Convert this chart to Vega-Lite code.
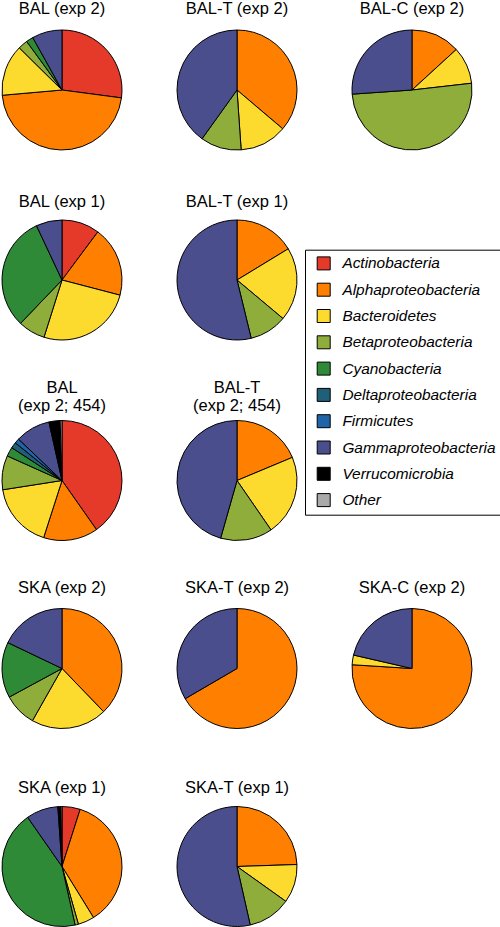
{
  "$schema": "https://vega.github.io/schema/vega-lite/v6.json",
  "background": "white",
  "padding": {"left": 0, "top": 1, "right": 0, "bottom": 0},
  "bounds": "flush",
  "align": "each",
  "columns": 3,
  "spacing": {"row": 50, "column": 55},
  "data": {"values": [
    {"chart": "BAL (exp 2)", "taxon": "Actinobacteria", "pct": 27.1, "rank": 1},
    {"chart": "BAL (exp 2)", "taxon": "Alphaproteobacteria", "pct": 46.5, "rank": 2},
    {"chart": "BAL (exp 2)", "taxon": "Bacteroidetes", "pct": 13.8, "rank": 3},
    {"chart": "BAL (exp 2)", "taxon": "Betaproteobacteria", "pct": 2.6, "rank": 4},
    {"chart": "BAL (exp 2)", "taxon": "Cyanobacteria", "pct": 1.9, "rank": 5},
    {"chart": "BAL (exp 2)", "taxon": "Gammaproteobacteria", "pct": 8.1, "rank": 8},
    {"chart": "BAL-T (exp 2)", "taxon": "Alphaproteobacteria", "pct": 36.2, "rank": 2},
    {"chart": "BAL-T (exp 2)", "taxon": "Bacteroidetes", "pct": 12.7, "rank": 3},
    {"chart": "BAL-T (exp 2)", "taxon": "Betaproteobacteria", "pct": 11.0, "rank": 4},
    {"chart": "BAL-T (exp 2)", "taxon": "Gammaproteobacteria", "pct": 40.1, "rank": 8},
    {"chart": "BAL-C (exp 2)", "taxon": "Alphaproteobacteria", "pct": 13.2, "rank": 2},
    {"chart": "BAL-C (exp 2)", "taxon": "Bacteroidetes", "pct": 10.0, "rank": 3},
    {"chart": "BAL-C (exp 2)", "taxon": "Betaproteobacteria", "pct": 50.7, "rank": 4},
    {"chart": "BAL-C (exp 2)", "taxon": "Gammaproteobacteria", "pct": 26.1, "rank": 8},
    {"chart": "BAL (exp 1)", "taxon": "Actinobacteria", "pct": 10.2, "rank": 1},
    {"chart": "BAL (exp 1)", "taxon": "Alphaproteobacteria", "pct": 18.9, "rank": 2},
    {"chart": "BAL (exp 1)", "taxon": "Bacteroidetes", "pct": 25.8, "rank": 3},
    {"chart": "BAL (exp 1)", "taxon": "Betaproteobacteria", "pct": 7.3, "rank": 4},
    {"chart": "BAL (exp 1)", "taxon": "Cyanobacteria", "pct": 30.9, "rank": 5},
    {"chart": "BAL (exp 1)", "taxon": "Gammaproteobacteria", "pct": 7.0, "rank": 8},
    {"chart": "BAL-T (exp 1)", "taxon": "Alphaproteobacteria", "pct": 16.3, "rank": 2},
    {"chart": "BAL-T (exp 1)", "taxon": "Bacteroidetes", "pct": 19.8, "rank": 3},
    {"chart": "BAL-T (exp 1)", "taxon": "Betaproteobacteria", "pct": 10.1, "rank": 4},
    {"chart": "BAL-T (exp 1)", "taxon": "Gammaproteobacteria", "pct": 53.8, "rank": 8},
    {"chart": "BAL (exp 2; 454)", "taxon": "Actinobacteria", "pct": 40.3, "rank": 1},
    {"chart": "BAL (exp 2; 454)", "taxon": "Alphaproteobacteria", "pct": 14.7, "rank": 2},
    {"chart": "BAL (exp 2; 454)", "taxon": "Bacteroidetes", "pct": 17.6, "rank": 3},
    {"chart": "BAL (exp 2; 454)", "taxon": "Betaproteobacteria", "pct": 9.2, "rank": 4},
    {"chart": "BAL (exp 2; 454)", "taxon": "Cyanobacteria", "pct": 2.5, "rank": 5},
    {"chart": "BAL (exp 2; 454)", "taxon": "Deltaproteobacteria", "pct": 1.6, "rank": 6},
    {"chart": "BAL (exp 2; 454)", "taxon": "Firmicutes", "pct": 1.3, "rank": 7},
    {"chart": "BAL (exp 2; 454)", "taxon": "Gammaproteobacteria", "pct": 9.4, "rank": 8},
    {"chart": "BAL (exp 2; 454)", "taxon": "Verrucomicrobia", "pct": 3.0, "rank": 9},
    {"chart": "BAL (exp 2; 454)", "taxon": "Other", "pct": 0.5, "rank": 10},
    {"chart": "BAL-T (exp 2; 454)", "taxon": "Alphaproteobacteria", "pct": 18.7, "rank": 2},
    {"chart": "BAL-T (exp 2; 454)", "taxon": "Bacteroidetes", "pct": 21.7, "rank": 3},
    {"chart": "BAL-T (exp 2; 454)", "taxon": "Betaproteobacteria", "pct": 14.0, "rank": 4},
    {"chart": "BAL-T (exp 2; 454)", "taxon": "Gammaproteobacteria", "pct": 45.6, "rank": 8},
    {"chart": "SKA (exp 2)", "taxon": "Alphaproteobacteria", "pct": 37.8, "rank": 2},
    {"chart": "SKA (exp 2)", "taxon": "Bacteroidetes", "pct": 20.4, "rank": 3},
    {"chart": "SKA (exp 2)", "taxon": "Betaproteobacteria", "pct": 8.9, "rank": 4},
    {"chart": "SKA (exp 2)", "taxon": "Cyanobacteria", "pct": 15.0, "rank": 5},
    {"chart": "SKA (exp 2)", "taxon": "Gammaproteobacteria", "pct": 17.9, "rank": 8},
    {"chart": "SKA-T (exp 2)", "taxon": "Alphaproteobacteria", "pct": 66.6, "rank": 2},
    {"chart": "SKA-T (exp 2)", "taxon": "Gammaproteobacteria", "pct": 33.4, "rank": 8},
    {"chart": "SKA-C (exp 2)", "taxon": "Alphaproteobacteria", "pct": 76.0, "rank": 2},
    {"chart": "SKA-C (exp 2)", "taxon": "Bacteroidetes", "pct": 2.6, "rank": 3},
    {"chart": "SKA-C (exp 2)", "taxon": "Gammaproteobacteria", "pct": 21.4, "rank": 8},
    {"chart": "SKA (exp 1)", "taxon": "Actinobacteria", "pct": 4.9, "rank": 1},
    {"chart": "SKA (exp 1)", "taxon": "Alphaproteobacteria", "pct": 36.3, "rank": 2},
    {"chart": "SKA (exp 1)", "taxon": "Bacteroidetes", "pct": 4.4, "rank": 3},
    {"chart": "SKA (exp 1)", "taxon": "Betaproteobacteria", "pct": 0.9, "rank": 4},
    {"chart": "SKA (exp 1)", "taxon": "Cyanobacteria", "pct": 43.8, "rank": 5},
    {"chart": "SKA (exp 1)", "taxon": "Gammaproteobacteria", "pct": 8.6, "rank": 8},
    {"chart": "SKA (exp 1)", "taxon": "Verrucomicrobia", "pct": 0.8, "rank": 9},
    {"chart": "SKA (exp 1)", "taxon": "Other", "pct": 0.3, "rank": 10},
    {"chart": "SKA-T (exp 1)", "taxon": "Alphaproteobacteria", "pct": 24.5, "rank": 2},
    {"chart": "SKA-T (exp 1)", "taxon": "Bacteroidetes", "pct": 10.4, "rank": 3},
    {"chart": "SKA-T (exp 1)", "taxon": "Betaproteobacteria", "pct": 11.6, "rank": 4},
    {"chart": "SKA-T (exp 1)", "taxon": "Gammaproteobacteria", "pct": 53.6, "rank": 8}
  ]},
  "concat": [
      {"title": {"text": "BAL (exp 2)", "offset": 10.1}, "width": 120, "height": 120,
       "transform": [{"filter": "datum.chart === 'BAL (exp 2)'"}],
       "mark": {"type": "arc", "stroke": "black", "strokeWidth": 1},
       "encoding": {"theta": {"field": "pct", "type": "quantitative", "stack": "normalize"},
         "color": {"field": "taxon", "type": "nominal", "scale": {"domain": ["Actinobacteria","Alphaproteobacteria","Bacteroidetes","Betaproteobacteria","Cyanobacteria","Deltaproteobacteria","Firmicutes","Gammaproteobacteria","Verrucomicrobia","Other"], "range": ["#E53A2A","#FF8000","#FCDA2E","#8EAD3A","#2F8A38","#1F5F78","#1F64A8","#4A4E8C","#000000","#AAAAAA"]}, "legend": {"orient": "none", "legendX": 303, "legendY": 219.7, "title": null}},
         "order": {"field": "rank", "type": "quantitative"}}},
      {"title": {"text": "BAL-T (exp 2)", "offset": 10.1}, "width": 120, "height": 120,
       "transform": [{"filter": "datum.chart === 'BAL-T (exp 2)'"}],
       "mark": {"type": "arc", "stroke": "black", "strokeWidth": 1},
       "encoding": {"theta": {"field": "pct", "type": "quantitative", "stack": "normalize"},
         "color": {"field": "taxon", "type": "nominal", "scale": {"domain": ["Actinobacteria","Alphaproteobacteria","Bacteroidetes","Betaproteobacteria","Cyanobacteria","Deltaproteobacteria","Firmicutes","Gammaproteobacteria","Verrucomicrobia","Other"], "range": ["#E53A2A","#FF8000","#FCDA2E","#8EAD3A","#2F8A38","#1F5F78","#1F64A8","#4A4E8C","#000000","#AAAAAA"]}, "legend": {"orient": "none", "legendX": 303, "legendY": 219.7, "title": null}},
         "order": {"field": "rank", "type": "quantitative"}}},
      {"title": {"text": "BAL-C (exp 2)", "offset": 10.1}, "width": 120, "height": 120,
       "transform": [{"filter": "datum.chart === 'BAL-C (exp 2)'"}],
       "mark": {"type": "arc", "stroke": "black", "strokeWidth": 1},
       "encoding": {"theta": {"field": "pct", "type": "quantitative", "stack": "normalize"},
         "color": {"field": "taxon", "type": "nominal", "scale": {"domain": ["Actinobacteria","Alphaproteobacteria","Bacteroidetes","Betaproteobacteria","Cyanobacteria","Deltaproteobacteria","Firmicutes","Gammaproteobacteria","Verrucomicrobia","Other"], "range": ["#E53A2A","#FF8000","#FCDA2E","#8EAD3A","#2F8A38","#1F5F78","#1F64A8","#4A4E8C","#000000","#AAAAAA"]}, "legend": {"orient": "none", "legendX": 303, "legendY": 219.7, "title": null}},
         "order": {"field": "rank", "type": "quantitative"}}},
      {"title": {"text": "BAL (exp 1)", "offset": -10.2}, "width": 120, "height": 160,
       "transform": [{"filter": "datum.chart === 'BAL (exp 1)'"}],
       "mark": {"type": "arc", "stroke": "black", "strokeWidth": 1},
       "encoding": {"theta": {"field": "pct", "type": "quantitative", "stack": "normalize"},
         "color": {"field": "taxon", "type": "nominal", "scale": {"domain": ["Actinobacteria","Alphaproteobacteria","Bacteroidetes","Betaproteobacteria","Cyanobacteria","Deltaproteobacteria","Firmicutes","Gammaproteobacteria","Verrucomicrobia","Other"], "range": ["#E53A2A","#FF8000","#FCDA2E","#8EAD3A","#2F8A38","#1F5F78","#1F64A8","#4A4E8C","#000000","#AAAAAA"]}, "legend": {"orient": "none", "legendX": 303, "legendY": 219.7, "title": null}},
         "order": {"field": "rank", "type": "quantitative"}}},
      {"title": {"text": "BAL-T (exp 1)", "offset": -10.2}, "width": 120, "height": 160,
       "transform": [{"filter": "datum.chart === 'BAL-T (exp 1)'"}],
       "mark": {"type": "arc", "stroke": "black", "strokeWidth": 1},
       "encoding": {"theta": {"field": "pct", "type": "quantitative", "stack": "normalize"},
         "color": {"field": "taxon", "type": "nominal", "scale": {"domain": ["Actinobacteria","Alphaproteobacteria","Bacteroidetes","Betaproteobacteria","Cyanobacteria","Deltaproteobacteria","Firmicutes","Gammaproteobacteria","Verrucomicrobia","Other"], "range": ["#E53A2A","#FF8000","#FCDA2E","#8EAD3A","#2F8A38","#1F5F78","#1F64A8","#4A4E8C","#000000","#AAAAAA"]}, "legend": {"orient": "none", "legendX": 303, "legendY": 219.7, "title": null}},
         "order": {"field": "rank", "type": "quantitative"}}},
      {"width": 120, "height": 160, "transform": [{"filter": "false"}], "mark": {"type": "point", "opacity": 0}, "encoding": {}},
      {"title": {"text": ["BAL", "(exp 2; 454)"], "offset": -4.2}, "width": 120, "height": 141,
       "transform": [{"filter": "datum.chart === 'BAL (exp 2; 454)'"}],
       "mark": {"type": "arc", "stroke": "black", "strokeWidth": 1},
       "encoding": {"theta": {"field": "pct", "type": "quantitative", "stack": "normalize"},
         "color": {"field": "taxon", "type": "nominal", "scale": {"domain": ["Actinobacteria","Alphaproteobacteria","Bacteroidetes","Betaproteobacteria","Cyanobacteria","Deltaproteobacteria","Firmicutes","Gammaproteobacteria","Verrucomicrobia","Other"], "range": ["#E53A2A","#FF8000","#FCDA2E","#8EAD3A","#2F8A38","#1F5F78","#1F64A8","#4A4E8C","#000000","#AAAAAA"]}, "legend": {"orient": "none", "legendX": 303, "legendY": 219.7, "title": null}},
         "order": {"field": "rank", "type": "quantitative"}}},
      {"title": {"text": ["BAL-T", "(exp 2; 454)"], "offset": -4.2}, "width": 120, "height": 141,
       "transform": [{"filter": "datum.chart === 'BAL-T (exp 2; 454)'"}],
       "mark": {"type": "arc", "stroke": "black", "strokeWidth": 1},
       "encoding": {"theta": {"field": "pct", "type": "quantitative", "stack": "normalize"},
         "color": {"field": "taxon", "type": "nominal", "scale": {"domain": ["Actinobacteria","Alphaproteobacteria","Bacteroidetes","Betaproteobacteria","Cyanobacteria","Deltaproteobacteria","Firmicutes","Gammaproteobacteria","Verrucomicrobia","Other"], "range": ["#E53A2A","#FF8000","#FCDA2E","#8EAD3A","#2F8A38","#1F5F78","#1F64A8","#4A4E8C","#000000","#AAAAAA"]}, "legend": {"orient": "none", "legendX": 303, "legendY": 219.7, "title": null}},
         "order": {"field": "rank", "type": "quantitative"}}},
      {"width": 120, "height": 141, "transform": [{"filter": "false"}], "mark": {"type": "point", "opacity": 0}, "encoding": {}},
      {"title": {"text": "SKA (exp 2)", "offset": 4.8}, "width": 120, "height": 135,
       "transform": [{"filter": "datum.chart === 'SKA (exp 2)'"}],
       "mark": {"type": "arc", "stroke": "black", "strokeWidth": 1},
       "encoding": {"theta": {"field": "pct", "type": "quantitative", "stack": "normalize"},
         "color": {"field": "taxon", "type": "nominal", "scale": {"domain": ["Actinobacteria","Alphaproteobacteria","Bacteroidetes","Betaproteobacteria","Cyanobacteria","Deltaproteobacteria","Firmicutes","Gammaproteobacteria","Verrucomicrobia","Other"], "range": ["#E53A2A","#FF8000","#FCDA2E","#8EAD3A","#2F8A38","#1F5F78","#1F64A8","#4A4E8C","#000000","#AAAAAA"]}, "legend": {"orient": "none", "legendX": 303, "legendY": 219.7, "title": null}},
         "order": {"field": "rank", "type": "quantitative"}}},
      {"title": {"text": "SKA-T (exp 2)", "offset": 4.8}, "width": 120, "height": 135,
       "transform": [{"filter": "datum.chart === 'SKA-T (exp 2)'"}],
       "mark": {"type": "arc", "stroke": "black", "strokeWidth": 1},
       "encoding": {"theta": {"field": "pct", "type": "quantitative", "stack": "normalize"},
         "color": {"field": "taxon", "type": "nominal", "scale": {"domain": ["Actinobacteria","Alphaproteobacteria","Bacteroidetes","Betaproteobacteria","Cyanobacteria","Deltaproteobacteria","Firmicutes","Gammaproteobacteria","Verrucomicrobia","Other"], "range": ["#E53A2A","#FF8000","#FCDA2E","#8EAD3A","#2F8A38","#1F5F78","#1F64A8","#4A4E8C","#000000","#AAAAAA"]}, "legend": {"orient": "none", "legendX": 303, "legendY": 219.7, "title": null}},
         "order": {"field": "rank", "type": "quantitative"}}},
      {"title": {"text": "SKA-C (exp 2)", "offset": 4.8}, "width": 120, "height": 135,
       "transform": [{"filter": "datum.chart === 'SKA-C (exp 2)'"}],
       "mark": {"type": "arc", "stroke": "black", "strokeWidth": 1},
       "encoding": {"theta": {"field": "pct", "type": "quantitative", "stack": "normalize"},
         "color": {"field": "taxon", "type": "nominal", "scale": {"domain": ["Actinobacteria","Alphaproteobacteria","Bacteroidetes","Betaproteobacteria","Cyanobacteria","Deltaproteobacteria","Firmicutes","Gammaproteobacteria","Verrucomicrobia","Other"], "range": ["#E53A2A","#FF8000","#FCDA2E","#8EAD3A","#2F8A38","#1F5F78","#1F64A8","#4A4E8C","#000000","#AAAAAA"]}, "legend": {"orient": "none", "legendX": 303, "legendY": 219.7, "title": null}},
         "order": {"field": "rank", "type": "quantitative"}}},
      {"title": {"text": "SKA (exp 1)", "offset": -10.2}, "width": 120, "height": 161,
       "transform": [{"filter": "datum.chart === 'SKA (exp 1)'"}],
       "mark": {"type": "arc", "stroke": "black", "strokeWidth": 1},
       "encoding": {"theta": {"field": "pct", "type": "quantitative", "stack": "normalize"},
         "color": {"field": "taxon", "type": "nominal", "scale": {"domain": ["Actinobacteria","Alphaproteobacteria","Bacteroidetes","Betaproteobacteria","Cyanobacteria","Deltaproteobacteria","Firmicutes","Gammaproteobacteria","Verrucomicrobia","Other"], "range": ["#E53A2A","#FF8000","#FCDA2E","#8EAD3A","#2F8A38","#1F5F78","#1F64A8","#4A4E8C","#000000","#AAAAAA"]}, "legend": {"orient": "none", "legendX": 303, "legendY": 219.7, "title": null}},
         "order": {"field": "rank", "type": "quantitative"}}},
      {"title": {"text": "SKA-T (exp 1)", "offset": -10.2}, "width": 120, "height": 161,
       "transform": [{"filter": "datum.chart === 'SKA-T (exp 1)'"}],
       "mark": {"type": "arc", "stroke": "black", "strokeWidth": 1},
       "encoding": {"theta": {"field": "pct", "type": "quantitative", "stack": "normalize"},
         "color": {"field": "taxon", "type": "nominal", "scale": {"domain": ["Actinobacteria","Alphaproteobacteria","Bacteroidetes","Betaproteobacteria","Cyanobacteria","Deltaproteobacteria","Firmicutes","Gammaproteobacteria","Verrucomicrobia","Other"], "range": ["#E53A2A","#FF8000","#FCDA2E","#8EAD3A","#2F8A38","#1F5F78","#1F64A8","#4A4E8C","#000000","#AAAAAA"]}, "legend": {"orient": "none", "legendX": 303, "legendY": 219.7, "title": null}},
         "order": {"field": "rank", "type": "quantitative"}}}
  ],
  "config": {
    "view": {"stroke": null},
    "title": {"font": "Liberation Sans", "fontSize": 16.5, "fontWeight": "normal", "color": "black", "baseline": "alphabetic", "lineHeight": 18},
    "legend": {"strokeColor": "black", "strokeWidth": 1, "padding": 6, "symbolType": "square", "symbolSize": 169, "symbolStrokeColor": "black", "symbolStrokeWidth": 1, "symbolOffset": 5, "labelFont": "Liberation Sans", "labelFontStyle": "italic", "labelFontSize": 15.4, "labelColor": "black", "labelOffset": 11, "rowPadding": 8.3, "labelLimit": 300}
  }
}
